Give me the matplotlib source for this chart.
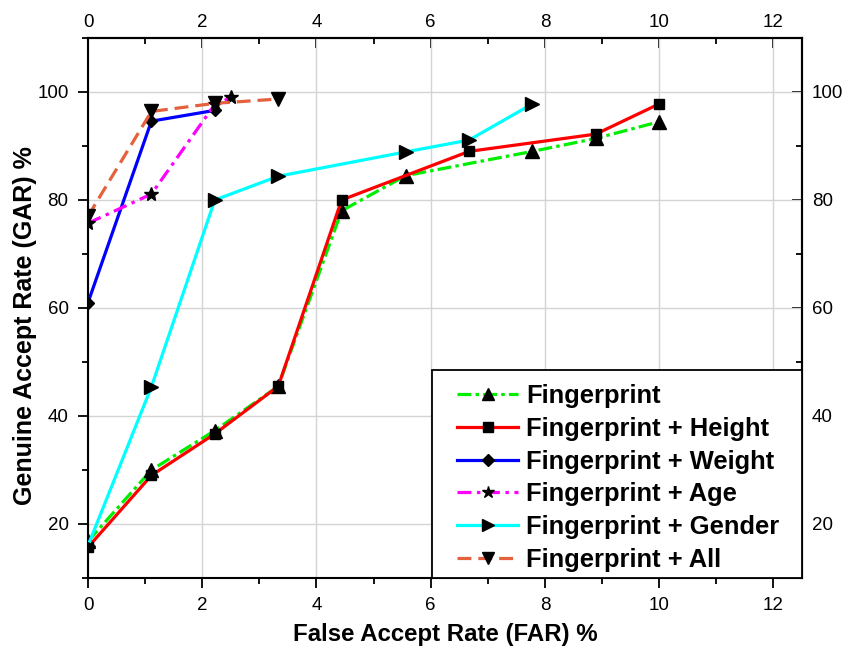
import matplotlib
matplotlib.use("Agg")
import matplotlib.pyplot as plt
from matplotlib.ticker import MultipleLocator
from matplotlib.patches import Rectangle

plt.rcParams['font.family'] = ['Liberation Sans', 'DejaVu Sans']
plt.rcParams['lines.scale_dashes'] = False

# ---- data ----
fp_x = [0, 1.11, 2.22, 3.33, 4.44, 5.56, 7.78, 8.89, 10]
fp_y = [16.8, 30.0, 37.3, 45.5, 78.0, 84.5, 89.0, 91.4, 94.5]

height_x = [0, 1.11, 2.22, 3.33, 4.44, 6.67, 8.89, 10]
height_y = [15.7, 29.0, 36.7, 45.5, 80.0, 89.0, 92.2, 97.8]

weight_x = [0, 1.11, 2.22]
weight_y = [61.0, 94.6, 96.6]

age_x = [0, 1.11, 2.22, 2.51]
age_y = [75.7, 81.1, 97.7, 99.0]

gender_x = [0, 1.11, 2.22, 3.33, 5.56, 6.67, 7.78]
gender_y = [16.0, 45.4, 80.0, 84.4, 88.9, 91.1, 97.8]

all_x = [0, 1.11, 2.22, 3.33]
all_y = [77.0, 96.4, 97.9, 98.7]

labels = ['Fingerprint', 'Fingerprint + Height', 'Fingerprint + Weight',
          'Fingerprint + Age', 'Fingerprint + Gender', 'Fingerprint + All']
x_ticks = [0, 2, 4, 6, 8, 10, 12]
y_ticks = [20, 40, 60, 80, 100]

fig = plt.figure(figsize=(8.47, 6.46), dpi=100)
ax = fig.add_axes([88/847, 1-578/646, (802-88)/847, (578-38)/646])

lw = 2.3
ax.plot(fp_x, fp_y, color='#00ee00', lw=lw, dashes=(10, 3, 2.5, 3),
        marker='^', ms=9.5, mfc='k', mec='k', label=labels[0], zorder=3)
ax.plot(height_x, height_y, color='#ff0000', lw=lw, linestyle='-',
        marker='s', ms=7.5, mfc='k', mec='k', label=labels[1], zorder=3)
ax.plot(weight_x, weight_y, color='#0000ff', lw=lw, linestyle='-',
        marker='D', ms=6.5, mfc='k', mec='k', label=labels[2], zorder=3)
ax.plot(age_x, age_y, color='#ff00ff', lw=lw, dashes=(10, 4, 2.5, 4),
        marker='*', ms=10, mfc='k', mec='k', label=labels[3], zorder=3)
ax.plot(gender_x, gender_y, color='#00ffff', lw=lw, linestyle='-',
        marker='>', ms=9.5, mfc='k', mec='k', label=labels[4], zorder=3)
ax.plot(all_x, all_y, color='#e5603c', lw=lw, dashes=(10, 5),
        marker='v', ms=9.5, mfc='k', mec='k', label=labels[5], zorder=3)

ax.set_xlim(0, 12.5)
ax.set_ylim(10, 110)
ax.set_xticks(x_ticks)
ax.set_yticks(y_ticks)
ax.xaxis.set_minor_locator(MultipleLocator(1))
ax.yaxis.set_minor_locator(MultipleLocator(10))
ax.grid(True, which='major', color='#d4d4d4', lw=1.0, zorder=0)
ax.set_axisbelow(True)

for s in ax.spines.values():
    s.set_linewidth(1.5)

ax.tick_params(which='major', direction='out', length=7, width=1.3,
               labelsize=13.5, pad=7)
ax.tick_params(which='minor', direction='out', length=4, width=1.3)

secx = ax.secondary_xaxis('top')
secx.set_xticks(x_ticks)
secx.xaxis.set_minor_locator(MultipleLocator(1))
secx.tick_params(which='major', direction='in', length=7, width=1.3,
                 labelsize=13.5, pad=5)
secx.tick_params(which='minor', direction='in', length=4, width=1.3)
secx.spines['top'].set_linewidth(1.5)

secy = ax.secondary_yaxis('right')
secy.set_yticks(y_ticks)
secy.yaxis.set_minor_locator(MultipleLocator(10))
secy.tick_params(which='major', direction='in', length=7, width=1.3,
                 labelsize=13.5, pad=7)
secy.tick_params(which='minor', direction='in', length=4, width=1.3)
secy.spines['right'].set_linewidth(1.5)

ax.set_xlabel('False Accept Rate (FAR) %', fontsize=17.3, fontweight='bold', labelpad=6)
ax.set_ylabel('Genuine Accept Rate (GAR) %', fontsize=18, fontweight='bold')
ax.yaxis.set_label_coords(-0.0714, 0.467)

# legend frame (drawn separately to match the reference's padding)
frame = Rectangle((0.482, 0.0), 0.518, 0.385, transform=ax.transAxes,
                  facecolor='white', edgecolor='k', lw=1.3, zorder=4.9,
                  clip_on=False)
ax.add_patch(frame)

leg = ax.legend(loc='upper left', bbox_to_anchor=(0.517, 0.359), borderaxespad=0,
                frameon=False, prop={'weight': 'bold', 'size': 18.4},
                handlelength=2.4, handletextpad=0.3, labelspacing=0.34,
                borderpad=0, markerscale=0.9)
leg.set_zorder(5)

fig.savefig('out.png', dpi=100)
